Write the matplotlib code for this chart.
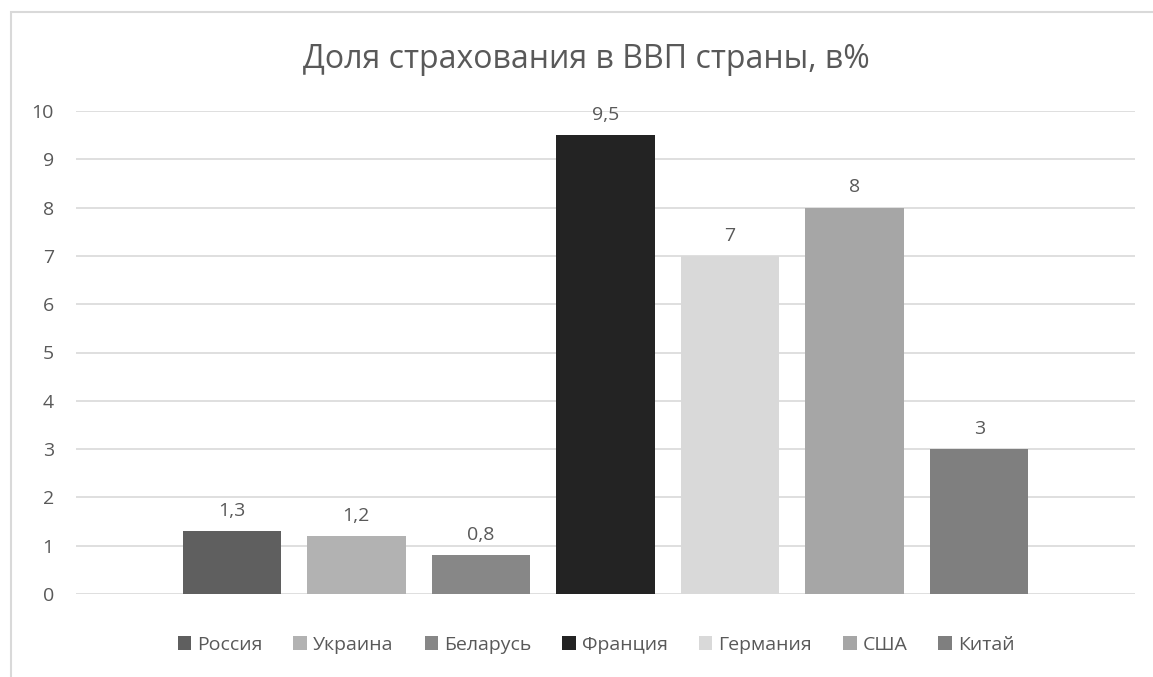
import matplotlib.pyplot as plt
from matplotlib.patches import Rectangle

# данные
countries = ['Россия', 'Украина', 'Беларусь', 'Франция', 'Германия', 'США', 'Китай']
values = [1.3, 1.2, 0.8, 9.5, 7, 8, 3]
labels = ['1,3', '1,2', '0,8', '9,5', '7', '8', '3']
colors = ['#5f5f5f', '#b2b2b2', '#878787', '#232323', '#d9d9d9', '#a6a6a6', '#7f7f7f']

plt.rcParams['font.family'] = ['Open Sans', 'DejaVu Sans']
text_color = '#595959'

fig = plt.figure(figsize=(11.53, 6.77), dpi=100)
ax = fig.add_axes([76/1153, 1 - 594/677, (1135 - 76)/1153, (594 - 111)/677])

# рамка области диаграммы
fig.patches.append(Rectangle((11/1153, -0.1), 1.2, 1 - 12/677 + 0.1,
                             transform=fig.transFigure, fill=False,
                             edgecolor='#d9d9d9', linewidth=1.5))

for i in range(len(countries)):
    ax.bar(i, values[i], width=0.79, color=colors[i], label=countries[i], zorder=3)
    ax.annotate(labels[i], (i, values[i]), xytext=(0, 8), textcoords='offset points',
                ha='center', va='bottom', fontsize=14, color=text_color)

ax.set_xlim(-1.25, 7.25)
ax.set_ylim(0, 10)
ax.set_yticks(range(0, 11))
ax.set_xticks([])
ax.grid(axis='y', color='#d9d9d9', linewidth=1.2, zorder=0)
for s in ax.spines.values():
    s.set_visible(False)
ax.tick_params(axis='y', length=0, pad=16, labelsize=14, labelcolor=text_color)

fig.text(586/1153, 1 - 60/677, 'Доля страхования в ВВП страны, в%',
         ha='center', va='center', fontsize=23, color=text_color)

fig.legend(loc='center', bbox_to_anchor=(596/1153, 1 - 645/677), ncol=7,
           frameon=False, fontsize=14, handlelength=0.7, handleheight=0.7,
           handletextpad=0.3, columnspacing=1.6, labelcolor=text_color)

fig.savefig('out.png', dpi=100)
